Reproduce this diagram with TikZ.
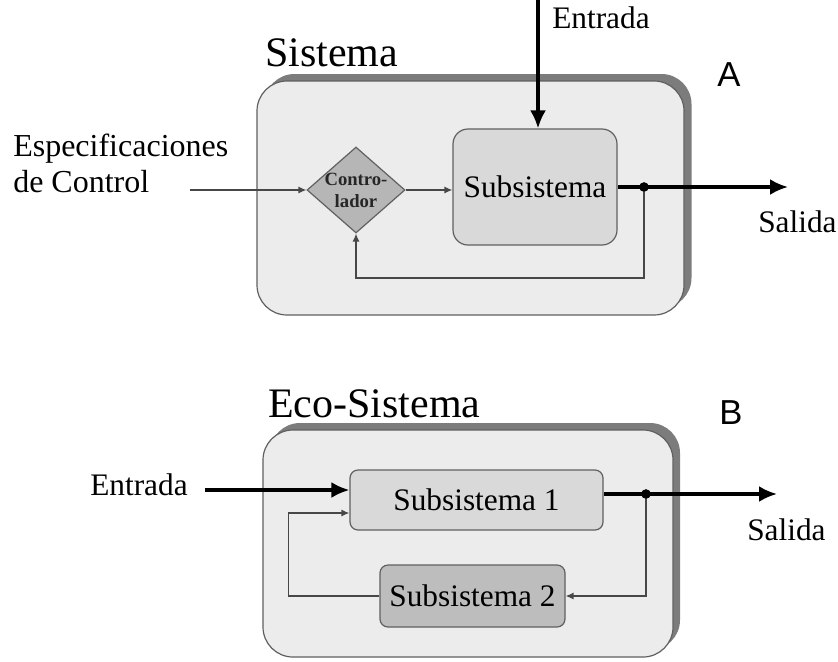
\documentclass[tikz,border=0pt]{standalone}
\usepackage{fontspec}
\setmainfont{Liberation Serif}
\newfontfamily\sansf{Liberation Sans}
\usetikzlibrary{shapes.geometric,arrows.meta}
\definecolor{boxfill}{HTML}{ECECEC}
\definecolor{shadowc}{HTML}{7C7C7C}
\definecolor{subfill}{HTML}{D9D9D9}
\definecolor{diafill}{HTML}{B6B6B6}
\definecolor{subtwofill}{HTML}{BDBDBD}
\definecolor{edgec}{HTML}{606060}
\begin{document}
\begin{tikzpicture}[x=0.75pt,y=-0.75pt,
  outer/.style={draw=edgec, fill=boxfill, rounded corners=22.5pt, line width=0.9pt, inner sep=0pt},
  shadowbox/.style={fill=shadowc, rounded corners=22.5pt, inner sep=0pt},
  subbox/.style={draw=edgec, line width=0.9pt, inner sep=0pt, font=\fontsize{23.5}{28}\selectfont},
  fbline/.style={draw=black!72, line width=0.975pt, -{Latex[length=6pt,width=5.25pt]}},
  thickline/.style={line width=2.4pt, -{Latex[length=13.5pt,width=12pt]}},
  lbl/.style={anchor=base west, inner sep=0pt, font=\fontsize{23.5}{28}\selectfont},
  titletext/.style={anchor=base west, inner sep=0pt, font=\fontsize{31.5}{36}\selectfont},
  letter/.style={inner sep=0pt, font=\sansf\fontsize{26}{30}\selectfont},
  dotn/.style={circle, fill=black, inner sep=0pt, minimum size=7pt}
]
\useasboundingbox (0,0) rectangle (838,661);

% ---------------- A ----------------
\node[shadowbox, minimum width=320.25pt, minimum height=175.5pt] (boxAs) at (478,191) {};
\node[outer, minimum width=320.25pt, minimum height=175.5pt] (boxA) at (470.5,198) {};
\node[titletext] (titA) at (265,66) {Sistema};
\node[letter] (letA) at (729,75) {A};

\node[subbox, fill=subfill, rounded corners=11.25pt, minimum width=123pt, minimum height=87pt] (subA) at (535,187) {Subsistema};
\node[diamond, draw=edgec, fill=diafill, line width=0.9pt, inner sep=-15pt,
      minimum width=73.5pt, minimum height=64.5pt, align=center, text=black!85,
      font=\bfseries\fontsize{14}{16.5}\selectfont] (ctrl) at (356,190) {Contro-\\lador};

\node[anchor=north west, inner sep=0pt, align=left, font=\fontsize{24}{27}\selectfont] (spec) at (13,134) {Especificaciones\\de Control};
\node[lbl] (entA) at (552,28) {Entrada};
\node[lbl] (salA) at (758,232) {Salida};

\coordinate (specA) at (190,190);
\coordinate (inA) at (538,0);
\coordinate (outA) at (788,187);
\node[dotn] (dA) at (644,187) {};

\draw[fbline] (specA) -- (ctrl.west);
\draw[fbline] (ctrl.east) -- (ctrl.east -| subA.west);
\draw[thickline] (inA) -- (inA |- subA.north);
\draw[thickline] (subA.east) -- (outA);
\draw[fbline] (dA.center) -- ++(0,91) -| (ctrl.south);
\node[dotn] at (dA) {};

% ---------------- B ----------------
\node[shadowbox, minimum width=307.5pt, minimum height=170.25pt] (boxBs) at (475,536.5) {};
\node[outer, minimum width=307.5pt, minimum height=170.25pt] (boxB) at (468,543.5) {};
\node[titletext] (titB) at (268,417) {Eco-Sistema};
\node[letter] (letB) at (731,413) {B};

\node[subbox, fill=subfill, rounded corners=6pt, minimum width=189.75pt, minimum height=45pt] (sub1) at (476.5,500) {Subsistema 1};
\node[subbox, fill=subtwofill, rounded corners=6pt, minimum width=138.75pt, minimum height=46.5pt] (sub2) at (472.5,596) {Subsistema 2};

\node[lbl] (entB) at (90,495) {Entrada};
\node[lbl] (salB) at (747,540) {Salida};

\coordinate (inB) at (205,490);
\coordinate (outB) at (777,494);
\node[dotn] (dB) at (646,494) {};

\draw[thickline] (inB) -- (inB -| sub1.west);
\draw[fbline] (sub2.west) -- ++(-91,0) |- ([yshift=-9.75pt]sub1.west);
\draw[thickline] (sub1.east |- outB) -- (outB);
\draw[fbline] (dB.center) |- (sub2.east);
\node[dotn] at (dB) {};
\end{tikzpicture}
\end{document}
